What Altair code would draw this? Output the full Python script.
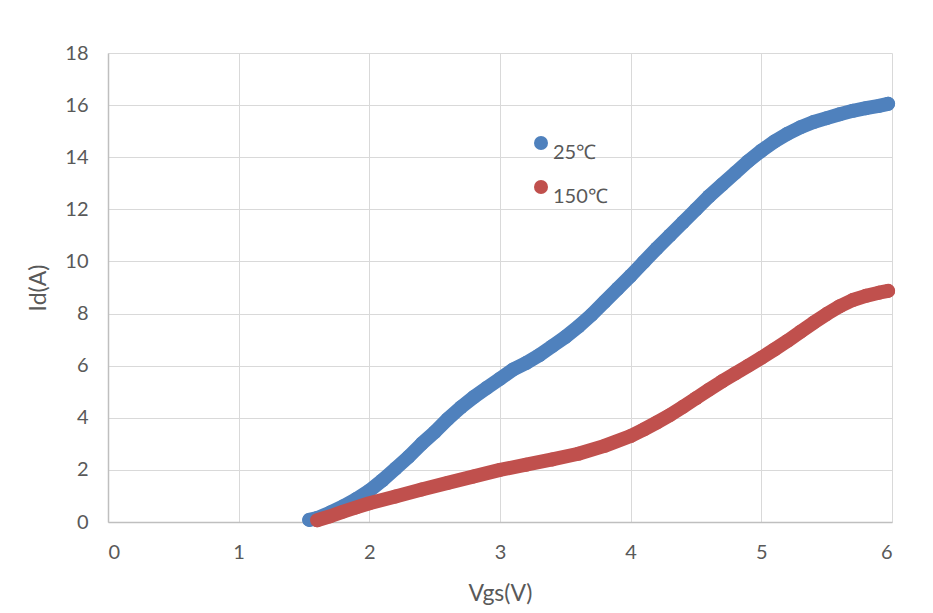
import altair as alt
import pandas as pd

# 25°C series (Vgs in V, Id in A)
blue_v = [1.54, 1.60, 1.70, 1.80, 1.90, 2.00, 2.10, 2.20, 2.30, 2.40, 2.50, 2.60, 2.70, 2.80,
          2.90, 3.00, 3.10, 3.20, 3.30, 3.40, 3.50, 3.60, 3.70, 3.80, 3.90, 4.00, 4.10, 4.20,
          4.30, 4.40, 4.50, 4.60, 4.70, 4.80, 4.90, 5.00, 5.10, 5.20, 5.30, 5.40, 5.50, 5.60,
          5.70, 5.80, 5.90, 5.97]
blue_i = [0.08, 0.15, 0.36, 0.60, 0.88, 1.20, 1.60, 2.05, 2.50, 3.00, 3.45, 3.95, 4.40, 4.80,
          5.15, 5.50, 5.85, 6.10, 6.40, 6.75, 7.10, 7.50, 7.95, 8.45, 8.95, 9.45, 9.98, 10.50,
          11.00, 11.50, 12.00, 12.50, 12.95, 13.40, 13.85, 14.25, 14.60, 14.90, 15.15, 15.35, 15.50, 15.65,
          15.78, 15.88, 15.97, 16.05]

# 150°C series
red_v = [1.60, 1.70, 1.80, 1.90, 2.00, 2.20, 2.40, 2.60, 2.80, 3.00, 3.20, 3.40, 3.60, 3.80,
         4.00, 4.10, 4.20, 4.30, 4.40, 4.50, 4.60, 4.70, 4.80, 4.90, 5.00, 5.10, 5.20, 5.30,
         5.40, 5.50, 5.60, 5.70, 5.80, 5.90, 5.97]
red_i = [0.07, 0.22, 0.40, 0.56, 0.72, 0.98, 1.25, 1.50, 1.75, 2.00, 2.20, 2.40, 2.62, 2.92,
         3.30, 3.55, 3.82, 4.10, 4.42, 4.75, 5.08, 5.40, 5.70, 6.00, 6.30, 6.62, 6.95, 7.30,
         7.65, 7.98, 8.28, 8.52, 8.68, 8.80, 8.87]

series_names = ["25℃", "150℃"]
series_colors = ["#4F81BD", "#C0504D"]
x_ticks = [0, 1, 2, 3, 4, 5, 6]
y_ticks = [0, 2, 4, 6, 8, 10, 12, 14, 16, 18]

df = pd.concat([
    pd.DataFrame({"Vgs": blue_v, "Id": blue_i, "series": series_names[0], "ord": 0}),
    pd.DataFrame({"Vgs": red_v, "Id": red_i, "series": series_names[1], "ord": 1}),
], ignore_index=True)

FONT = "Lato"
TXT = "#595959"

x_enc = alt.X("Vgs:Q", scale=alt.Scale(domain=[0, 6], nice=False),
              axis=alt.Axis(title="Vgs(V)", values=x_ticks, format="d"))
y_enc = alt.Y("Id:Q", scale=alt.Scale(domain=[0, 18], nice=False),
              axis=alt.Axis(title="Id(A)", values=y_ticks, format="d"))
color_scale = alt.Scale(domain=series_names, range=series_colors)

pts = alt.Chart(df).mark_circle(size=196, opacity=1).encode(
    x=x_enc, y=y_enc,
    color=alt.Color("series:N", scale=color_scale, sort=series_names,
                    legend=alt.Legend(title=None, orient="none", legendX=423, legendY=80,
                                      symbolType="circle", symbolSize=196,
                                      labelFontSize=20, labelFont=FONT, labelColor=TXT,
                                      labelBaseline="top", rowPadding=14, padding=0,
                                      symbolStrokeWidth=0, labelOffset=2)),
)

lines = alt.Chart(df).mark_line(strokeWidth=14, strokeCap="round", strokeJoin="round").encode(
    x=x_enc, y=y_enc,
    color=alt.Color("series:N", scale=color_scale, sort=series_names, legend=None),
    detail="ord:O",
    order="Vgs:Q",
)

chart = alt.layer(pts, lines).properties(
    width=784, height=469,
    autosize=alt.AutoSizeParams(type="none"),
    padding={"left": 108, "top": 53, "right": 41, "bottom": 91},
    background="white",
).configure_view(strokeWidth=0).configure_axis(
    grid=True, gridColor="#d9d9d9", gridWidth=1,
    domainColor="#bfbfbf", domainWidth=1.5,
    ticks=False,
    labelFont=FONT, labelFontSize=20, labelColor=TXT,
    titleFont=FONT, titleFontSize=23, titleColor=TXT, titleFontWeight="normal",
).configure_axisX(labelPadding=20, titlePadding=20).configure_axisY(
    labelPadding=20, titlePadding=14)

chart.save("out.html", embed_options={"renderer": "svg", "actions": False})
